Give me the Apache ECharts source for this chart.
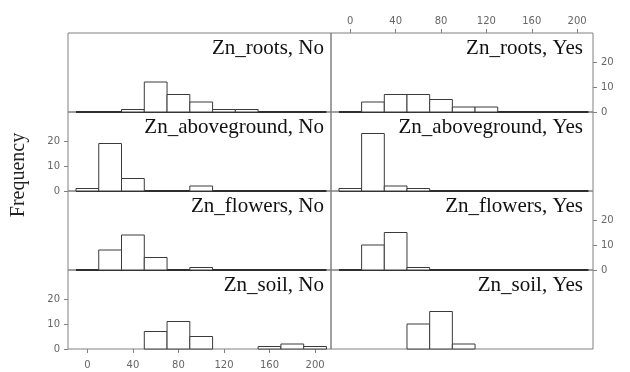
<!DOCTYPE html>
<html>
<head>
<meta charset="utf-8">
<script src="https://cdn.jsdelivr.net/npm/echarts@6/dist/echarts.min.js"></script>
<style>
  html, body { margin: 0; padding: 0; background: #fff; }
  #chart { width: 630px; height: 372px; }
</style>
</head>
<body>
<div id="chart"></div>
<script>
// Histogram bin edges (width 20)
const binEdges = [-10, 10, 30, 50, 70, 90, 110, 130, 150, 170, 190, 210];

// Counts per bin for each tissue / group
const rootsNo        = [0, 0, 1, 12, 7, 4, 1, 1, 0, 0, 0];
const rootsYes       = [0, 4, 7, 7, 5, 2, 2, 0, 0, 0, 0];
const abovegroundNo  = [1, 19, 5, 0, 0, 2, 0, 0, 0, 0, 0];
const abovegroundYes = [1, 23, 2, 1, 0, 0, 0, 0, 0, 0, 0];
const flowersNo      = [0, 8, 14, 5, 0, 1, 0, 0, 0, 0, 0];
const flowersYes     = [0, 10, 15, 1, 0, 0, 0, 0, 0, 0, 0];
const soilNo         = [0, 0, 0, 7, 11, 5, 0, 0, 1, 2, 1];
const soilYes        = [0, 0, 0, 10, 15, 2, 0, 0, 0, 0, 0];

const panelTitles = [
  'Zn_roots, No', 'Zn_roots, Yes',
  'Zn_aboveground, No', 'Zn_aboveground, Yes',
  'Zn_flowers, No', 'Zn_flowers, Yes',
  'Zn_soil, No', 'Zn_soil, Yes'
];
const panelCounts = [
  rootsNo, rootsYes,
  abovegroundNo, abovegroundYes,
  flowersNo, flowersYes,
  soilNo, soilYes
];

const xTickValues = [0, 40, 80, 120, 160, 200];
const yTickValues = [0, 10, 20];
const yAxisTitle = 'Frequency';

// Lattice geometry
const colLeft = [68, 331];
const colWidth = [263, 262];
const rowTop = [33, 112, 191, 270];
const rowHeight = 79;
const X_MIN = -17, X_MAX = 214;
const Y_MIN = 0, Y_MAX = 31.6;

const frameColor = '#808080';
const tickLabelStyle = { color: '#666', fontFamily: 'DejaVu Sans', fontSize: 10 };

const grids = [], xAxes = [], yAxes = [], series = [], titles = [];

panelCounts.forEach((counts, i) => {
  const r = Math.floor(i / 2), c = i % 2;
  const showTopX = (r === 0 && c === 1);
  const showBottomX = (r === 3 && c === 0);
  const showX = showTopX || showBottomX;
  const showY = (c === 0 && (r === 1 || r === 3)) || (c === 1 && (r === 0 || r === 2));

  grids.push({
    left: colLeft[c], top: rowTop[r], width: colWidth[c], height: rowHeight,
    show: true, borderColor: frameColor, borderWidth: 1, backgroundColor: 'transparent'
  });

  xAxes.push({
    type: 'value', gridIndex: i, min: X_MIN, max: X_MAX,
    position: showTopX ? 'top' : 'bottom',
    axisLine: { show: false, onZero: false },
    splitLine: { show: false },
    axisTick: { show: showX, length: 4, customValues: xTickValues, lineStyle: { color: frameColor } },
    axisLabel: Object.assign({ show: showX, margin: showTopX ? 7 : 11, customValues: xTickValues }, tickLabelStyle)
  });

  yAxes.push({
    type: 'value', gridIndex: i, min: Y_MIN, max: Y_MAX,
    position: c === 0 ? 'left' : 'right',
    axisLine: { show: false, onZero: false },
    splitLine: { show: false },
    axisTick: { show: showY, length: 4, customValues: yTickValues, lineStyle: { color: frameColor } },
    axisLabel: Object.assign({ show: showY, margin: 8, customValues: yTickValues }, tickLabelStyle)
  });

  // zero line under the bins (upper three rows)
  if (r < 3) {
    series.push({
      type: 'line', xAxisIndex: i, yAxisIndex: i, silent: true, clip: false,
      symbol: 'none', z: 1,
      data: [[binEdges[0], 0], [binEdges[binEdges.length - 1], 0]],
      lineStyle: { color: '#2e2e2e', width: 2 }
    });
  }

  series.push({
    type: 'custom', xAxisIndex: i, yAxisIndex: i, silent: true, clip: false, z: 3,
    data: counts.map((n, k) => [binEdges[k], binEdges[k + 1], n]).filter(d => d[2] > 0),
    encode: { x: [0, 1], y: 2 },
    renderItem: (params, api) => {
      const p0 = api.coord([api.value(0), 0]);
      const p1 = api.coord([api.value(1), api.value(2)]);
      return {
        type: 'rect',
        shape: { x: p0[0], y: p1[1], width: p1[0] - p0[0], height: p0[1] - p1[1] },
        style: { fill: '#fff', stroke: '#3a3a3a', lineWidth: 1 }
      };
    }
  });

  titles.push({
    text: panelTitles[i],
    right: 630 - (colLeft[c] + colWidth[c]) + (c === 0 ? 7 : 10),
    top: rowTop[r] + 5,
    padding: 0,
    textStyle: { fontFamily: 'Liberation Serif', fontSize: 21, fontWeight: 'normal', color: '#111' }
  });
});

const chart = echarts.init(document.getElementById('chart'), null, { renderer: 'canvas' });
chart.setOption({
  animation: false,
  backgroundColor: '#fff',
  title: titles,
  grid: grids,
  xAxis: xAxes,
  yAxis: yAxes,
  series: series,
  graphic: [{
    type: 'text',
    x: 19, y: 175,
    rotation: Math.PI / 2,
    style: {
      text: yAxisTitle,
      font: '20px "Liberation Serif"',
      fill: '#222',
      textAlign: 'center',
      textVerticalAlign: 'middle'
    }
  }]
});
</script>
</body>
</html>
